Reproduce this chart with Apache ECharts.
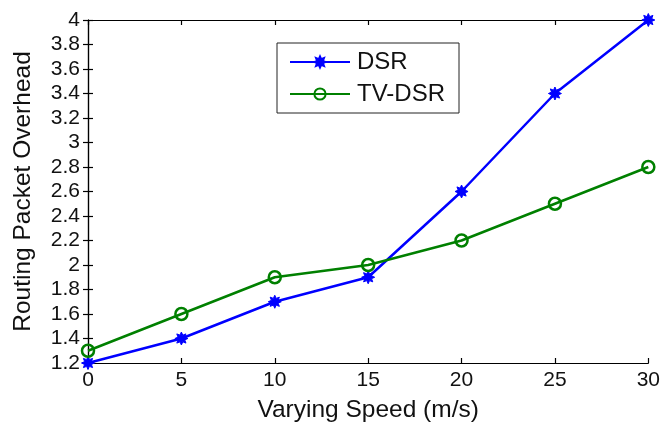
<!DOCTYPE html>
<html>
<head>
<meta charset="utf-8">
<script src="https://cdn.jsdelivr.net/npm/echarts@6/dist/echarts.min.js"></script>
<style>
html,body{margin:0;padding:0;background:#fff;}
#chart{width:663px;height:428px;}
</style>
</head>
<body>
<div id="chart"></div>
<script>
var speeds = [0, 5, 10, 15, 20, 25, 30];
var dsr = [1.2, 1.4, 1.7, 1.9, 2.6, 3.4, 4.0];
var tvdsr = [1.3, 1.6, 1.9, 2.0, 2.2, 2.5, 2.8];
var seriesNames = ['DSR', 'TV-DSR'];

function starPath(points, rOut, rIn) {
  var d = '';
  for (var i = 0; i < points * 2; i++) {
    var r = i % 2 === 0 ? rOut : rIn;
    var a = Math.PI * i / points - Math.PI / 2;
    var x = (50 + r * Math.cos(a)).toFixed(2);
    var y = (50 + r * Math.sin(a)).toFixed(2);
    d += (i === 0 ? 'M' : 'L') + x + ' ' + y + ' ';
  }
  return 'path://' + d + 'Z';
}
var asterisk = starPath(8, 50, 28);

var font = 'Liberation Sans, Arial, sans-serif';
var chart = echarts.init(document.getElementById('chart'));
var axisCommon = {
  axisLine: {show: true, lineStyle: {color: '#000', width: 1.2}},
  axisTick: {show: true, inside: true, length: 5, lineStyle: {color: '#000', width: 1.2}},
  splitLine: {show: false}
};
chart.setOption({
  animation: false,
  backgroundColor: '#fff',
  grid: {left: 88, right: 14, top: 20, bottom: 65},
  legend: {
    data: seriesNames,
    orient: 'vertical',
    left: 277, top: 43,
    width: 181,
    padding: [7, 14, 7, 12],
    itemGap: 8,
    itemWidth: 60,
    itemHeight: 14,
    borderColor: '#222',
    borderWidth: 1,
    backgroundColor: '#fff',
    textStyle: {fontFamily: font, fontSize: 24, color: '#111', padding: [0, 0, 0, 2]}
  },
  xAxis: [
    Object.assign({
      type: 'value', min: 0, max: 30, interval: 5,
      name: 'Varying Speed (m/s)', nameLocation: 'middle', nameGap: 35,
      nameTextStyle: {fontFamily: font, fontSize: 24.5, color: '#111'},
      axisLabel: {fontFamily: font, fontSize: 21, color: '#111', margin: 7}
    }, axisCommon),
    Object.assign({
      type: 'value', min: 0, max: 30, interval: 5, position: 'top',
      axisLabel: {show: false}
    }, axisCommon)
  ],
  yAxis: [
    Object.assign({
      type: 'value', min: 1.2, max: 4, interval: 0.2,
      name: 'Routing Packet Overhead', nameLocation: 'middle', nameGap: 52,
      nameTextStyle: {fontFamily: font, fontSize: 24.5, color: '#111'},
      axisLabel: {fontFamily: font, fontSize: 21, color: '#111', margin: 8,
        formatter: function (v) { return String(Math.round(v * 10) / 10); }}
    }, axisCommon),
    Object.assign({
      type: 'value', min: 1.2, max: 4, interval: 0.2, position: 'right',
      axisLabel: {show: false}
    }, axisCommon)
  ],
  series: [
    {
      name: seriesNames[0], type: 'line',
      data: speeds.map(function (s, i) { return [s, dsr[i]]; }),
      symbol: asterisk, symbolSize: 13,
      lineStyle: {color: '#0000ff', width: 2.5},
      itemStyle: {color: '#0000ff', borderColor: '#0000ff', borderWidth: 1}
    },
    {
      name: seriesNames[1], type: 'line',
      data: speeds.map(function (s, i) { return [s, tvdsr[i]]; }),
      symbol: 'circle', symbolSize: 12,
      lineStyle: {color: '#008000', width: 2.5},
      itemStyle: {color: 'rgba(255,255,255,0)', borderColor: '#008000', borderWidth: 2.5}
    }
  ]
});
</script>
</body>
</html>
